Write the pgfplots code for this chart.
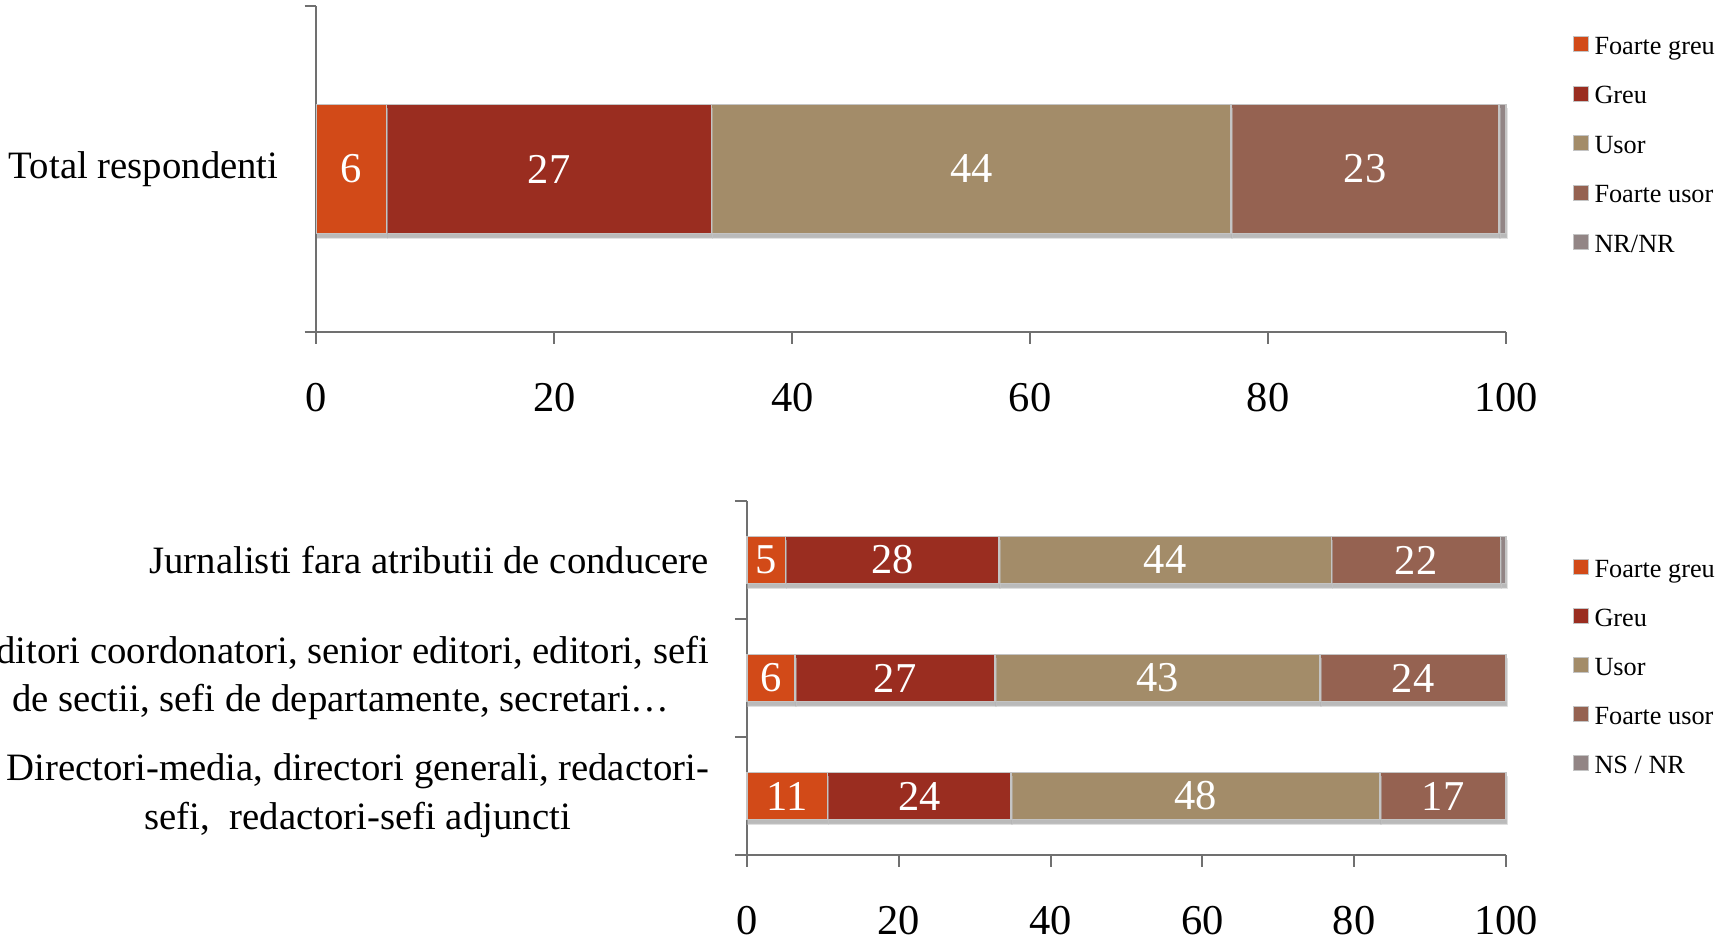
\documentclass[border=0pt]{standalone}
\usepackage{pgfplots}
\pgfplotsset{compat=1.18}
\usepackage{fontspec}
\setmainfont{Liberation Serif}
\usetikzlibrary{shadows}
\definecolor{cFG}{HTML}{D24A18}
\definecolor{cG}{HTML}{9A2D20}
\definecolor{cU}{HTML}{A38C69}
\definecolor{cFU}{HTML}{956251}
\definecolor{cNR}{HTML}{928585}
\definecolor{axgrey}{HTML}{707070}
\definecolor{bord}{HTML}{C4C4C4}
\pgfplotsset{
  barseg/.style={fill=#1, draw=bord, line width=0.6pt,
    drop shadow={shadow xshift=0.4pt, shadow yshift=-1.8pt, opacity=0.45, fill=black!60}},
  legsq/.style={legend image code/.code={\draw[draw=bord, line width=0.4pt, fill=#1] (0pt,-1.6pt) rectangle (6pt,4.4pt);}},
  common/.style={
    anchor=south west, scale only axis, xmin=0, xmax=100, clip=false,
    axis x line*=bottom, axis y line*=left,
    axis line style={-, draw=axgrey, line width=0.8pt},
    tick align=outside, major tick length=4.8pt,
    tick style={draw=axgrey, line width=0.8pt},
    xtick={0,20,...,100},
    /pgf/number format/assume math mode=true,
    xticklabel style={font=\fontsize{17}{20}\selectfont, anchor=center, yshift=-21.5pt, inner sep=0pt},
    yticklabel style={font=\fontsize{15.5}{19.5}\selectfont, align=center, inner sep=0pt, xshift=-15pt},
    extra y tick style={major tick length=0pt},
    legend cell align=left,
  },
  lblaxis/.style={anchor=south west, scale only axis, xmin=0, xmax=100, hide axis, clip=false},
  lbl/.style={draw=none, mark=none, nodes near coords, point meta=explicit symbolic,
    every node near coord/.append style={anchor=center, text=white, font=\fontsize{17}{20}\selectfont, inner sep=0pt}},
}
\begin{document}
\begin{tikzpicture}
% ---------- top chart ----------
\begin{axis}[common,
  at={(126.6pt,243.6pt)}, width=475.8pt, height=130.4pt,
  xbar stacked, bar width=0.79, ymin=-1, ymax=1,
  ytick={-1,1}, yticklabels={},
  extra y ticks={0}, extra y tick labels={Total respondenti},
  legend style={at={(1.0555,0.9088)}, anchor=north west, draw=none, fill=none,
    inner sep=0pt, row sep=10.98pt, font=\fontsize{10.5}{12}\selectfont,
    nodes={inner sep=0pt}, column sep=2.4pt},
]
\addplot[barseg=cFG, forget plot] coordinates {(5.9,0)};
\addplot[barseg=cG, forget plot] coordinates {(27.3,0)};
\addplot[barseg=cU, forget plot] coordinates {(43.7,0)};
\addplot[barseg=cFU, forget plot] coordinates {(22.5,0)};
\addplot[barseg=cNR, forget plot] coordinates {(0.6,0)};
\addlegendimage{legsq=cFG}\addlegendentry{Foarte greu}
\addlegendimage{legsq=cG}\addlegendentry{Greu}
\addlegendimage{legsq=cU}\addlegendentry{Usor}
\addlegendimage{legsq=cFU}\addlegendentry{Foarte usor}
\addlegendimage{legsq=cNR}\addlegendentry{NR/NR}
\end{axis}
\begin{axis}[lblaxis, at={(126.6pt,243.6pt)}, width=475.8pt, height=130.4pt, ymin=-1, ymax=1]
\addplot[lbl] coordinates {(2.95,0) [6] (19.55,0) [27] (55.05,0) [44] (88.15,0) [23]};
\end{axis}
% ---------- bottom chart ----------
\begin{axis}[common,
  at={(298.8pt,34.4pt)}, width=303.6pt, height=141.6pt,
  xbar stacked, bar width=0.4, ymin=-0.5, ymax=2.5,
  ytick={-0.5,0.5,1.5,2.5}, yticklabels={},
  extra y ticks={0,1,2},
  extra y tick labels={{Directori-media, directori generali, redactori-\\sefi,\ \ redactori-sefi adjuncti},{Editori coordonatori, senior editori, editori, sefi\\de sectii, sefi de departamente, secretari…},{Jurnalisti fara atributii de conducere}},
  legend style={at={(1.087,0.837)}, anchor=north west, draw=none, fill=none,
    inner sep=0pt, row sep=10.82pt, font=\fontsize{10.5}{12}\selectfont,
    nodes={inner sep=0pt}, column sep=2.4pt},
]
\addplot[barseg=cFG, forget plot] coordinates {(10.6,0) (6.3,1) (5.1,2)};
\addplot[barseg=cG, forget plot] coordinates {(24.2,0) (26.4,1) (28.1,2)};
\addplot[barseg=cU, forget plot] coordinates {(48.6,0) (42.8,1) (43.8,2)};
\addplot[barseg=cFU, forget plot] coordinates {(16.6,0) (24.5,1) (22.3,2)};
\addplot[barseg=cNR, forget plot] coordinates {(0,0) (0,1) (0.7,2)};
\addlegendimage{legsq=cFG}\addlegendentry{Foarte greu}
\addlegendimage{legsq=cG}\addlegendentry{Greu}
\addlegendimage{legsq=cU}\addlegendentry{Usor}
\addlegendimage{legsq=cFU}\addlegendentry{Foarte usor}
\addlegendimage{legsq=cNR}\addlegendentry{NS / NR}
\end{axis}
\begin{axis}[lblaxis, at={(298.8pt,34.4pt)}, width=303.6pt, height=141.6pt, ymin=-0.5, ymax=2.5]
\addplot[lbl] coordinates {(5.3,0) [11] (22.7,0) [24] (59.1,0) [48] (91.7,0) [17]
  (3.15,1) [6] (19.5,1) [27] (54.1,1) [43] (87.75,1) [24]
  (2.55,2) [5] (19.15,2) [28] (55.1,2) [44] (88.15,2) [22]};
\end{axis}
\pgfresetboundingbox
\useasboundingbox (0pt,0pt) rectangle (694pt,376.4pt);
\end{tikzpicture}
\end{document}
